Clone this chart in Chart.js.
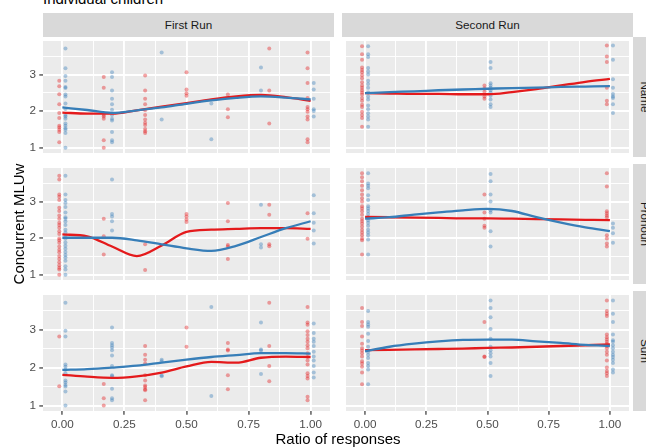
<!DOCTYPE html>
<html>
<head>
<meta charset="utf-8">
<script src="https://cdn.jsdelivr.net/npm/chart.js@4"></script>
<style>
body { margin:0; width:646px; height:448px; overflow:hidden; position:relative; background:#fff; font-family:"Liberation Sans", Arial, sans-serif; }
canvas, .lbl, .strip { position:absolute; }
.strip { background:#D9D9D9; color:#1A1A1A; font-size:11.7px; text-align:center; line-height:24px; white-space:nowrap; }
.lbl { white-space:nowrap; color:#000; font-weight:normal; }
</style>
</head>
<body>
<div class="lbl" style="left:43px; top:-9px; font-size:15px; line-height:15px;">Individual children</div>
<div class="strip" style="left:43px; top:13px; width:291px; height:24px;">First Run</div>
<div class="strip" style="left:342px; top:13px; width:291px; height:24px;">Second Run</div>
<div class="strip" style="left:585px; top:85px; width:120px; height:24px; transform:rotate(90deg);">Name</div>
<div class="strip" style="left:585px; top:212px; width:120px; height:24px; transform:rotate(90deg);">Pronoun</div>
<div class="strip" style="left:585px; top:339px; width:120px; height:24px; transform:rotate(90deg);">Sum</div>

<canvas id="p0" width="334" height="120" style="left:0; top:37px;"></canvas>
<canvas id="p1" width="291" height="120" style="left:342px; top:37px;"></canvas>
<canvas id="p2" width="334" height="120" style="left:0; top:164px;"></canvas>
<canvas id="p3" width="291" height="120" style="left:342px; top:164px;"></canvas>
<canvas id="p4" width="334" height="140" style="left:0; top:291px;"></canvas>
<canvas id="p5" width="291" height="140" style="left:342px; top:291px;"></canvas>

<div class="lbl" style="left:238px; width:200px; text-align:center; top:431px; font-size:15px; line-height:15px;">Ratio of responses</div>
<div class="lbl" style="left:-81px; width:200px; height:16px; text-align:center; top:216px; font-size:15px; line-height:16px; transform:rotate(-90deg);">Concurrent MLUw</div>

<script>
const xBreaks = [0, 0.25, 0.5, 0.75, 1];
const xMinor = [0.125, 0.375, 0.625, 0.875];
const yBreaks = [1, 2, 3];
const yMinor = [1.5, 2.5, 3.5];
const smoothX = [0, 0.1, 0.2, 0.3, 0.4, 0.5, 0.6, 0.7, 0.8, 0.9, 1];

// raw points: [ratio, [MLUw values]]
const firstNameRed = [
    [0, [2.83, 2.68, 2.46, 2.19, 1.95, 1.81, 1.60, 1.55, 1.49, 1.43, 1.15]],
    [1/6, [2.93, 2.64, 1.89, 1.85, 1.79, 1.20, 1.0]],
    [1/3, [2.97, 2.56, 2.34, 2.19, 2.02, 1.89, 1.77, 1.68, 1.62, 1.51, 1.45, 1.40]],
    [1/2, [3.06, 2.59, 2.49, 2.42]],
    [2/3, [2.45, 2.05, 1.83]],
    [5/6, [3.71, 2.56, 1.66]],
    [1, [3.60, 3.17, 2.77, 2.36, 2.11, 2.05, 1.98, 1.85, 1.77, 1.23, 1.15]]
];
const firstNameBlue = [
    [0, [3.71, 3.17, 2.96, 2.83, 2.66, 2.63, 2.45, 2.40, 2.21, 2.06, 1.89, 1.85, 1.79, 1.66, 1.60, 1.53, 1.49, 1.40, 1.0]],
    [0.2, [3.06, 2.93, 2.56, 2.34, 2.19, 2.04, 1.89, 1.79, 1.74, 1.43, 1.20, 1.15]],
    [0.4, [3.60, 1.77]],
    [0.6, [2.21, 1.23]],
    [0.8, [3.19, 2.56]],
    [1, [2.77, 2.59, 2.34, 2.05, 2.00, 1.85]]
];
const secondNameRed = [
    [0, [3.77, 3.55, 3.40, 3.19, 3.12, 3.06, 2.98, 2.90, 2.79, 2.70, 2.64, 2.57, 2.51, 2.45, 2.36, 2.28, 2.17, 2.11, 1.98, 1.89, 1.81, 1.57]],
    [0.5, [2.70, 2.62, 2.53, 2.40, 2.34]],
    [1, [3.79, 3.49, 3.34, 2.64, 2.28, 2.19]]
];
const secondNameBlue = [
    [0, [3.77, 3.55, 3.48, 3.18, 3.08, 3.00, 2.83, 2.74, 2.64, 2.51, 2.40, 2.32, 2.15, 2.05, 1.94, 1.85, 1.77, 1.57]],
    [0.5, [3.34, 3.18, 2.76, 2.70, 2.64, 2.57, 2.51, 2.42, 2.32, 2.19, 2.11]],
    [1, [3.79, 3.40, 2.87, 2.64, 2.47, 2.40, 2.36, 2.19, 1.95]]
];
const firstPronounRed = [
    [0, [3.70, 3.60, 3.19, 3.13, 3.04, 2.83, 2.74, 2.62, 2.53, 2.42, 2.36, 2.28, 2.19, 2.11, 1.99, 1.94, 1.87, 1.77, 1.68, 1.61, 1.51, 1.43, 1.34, 1.26, 1.19, 1.14, 1.0]],
    [1/6, [2.53, 2.05, 1.55]],
    [1/3, [1.83, 1.13]],
    [1/2, [2.66, 2.59, 2.51, 2.44]],
    [2/3, [2.96, 2.46, 1.81, 1.77, 1.43]],
    [5/6, [2.91, 2.64, 1.83, 1.78]],
    [1, [2.68, 1.98]]
];
const firstPronounBlue = [
    [0, [3.70, 3.19, 3.04, 2.96, 2.85, 2.70, 2.57, 2.53, 2.45, 2.36, 2.23, 2.15, 2.06, 1.98, 1.88, 1.79, 1.71, 1.62, 1.54, 1.47, 1.38, 1.23, 1.14, 1.0]],
    [0.2, [3.60, 2.66, 2.59, 2.46, 2.21]],
    [0.8, [2.91, 1.83, 1.74]],
    [1, [3.17, 2.68, 2.42, 2.21, 1.85]]
];
const secondPronounRed = [
    [0, [3.77, 3.66, 3.55, 3.43, 3.31, 3.19, 3.09, 3.00, 2.87, 2.81, 2.73, 2.64, 2.53, 2.47, 2.40, 2.32, 2.23, 2.15, 2.08, 1.99, 1.94, 1.55]],
    [0.5, [3.19, 2.70, 2.53, 2.34, 2.28]],
    [1, [3.77, 3.41, 2.73, 2.68, 2.62, 2.57, 2.08, 1.99, 1.85, 1.77]]
];
const secondPronounBlue = [
    [0, [3.77, 3.49, 3.43, 3.36, 3.17, 3.04, 2.87, 2.81, 2.74, 2.66, 2.57, 2.49, 2.42, 2.34, 2.23, 2.15, 2.08, 1.96, 1.55]],
    [0.5, [3.75, 3.55, 3.19, 3.00, 2.76, 2.70, 2.19, 1.77]],
    [1, [2.40, 2.28, 2.13, 1.87]]
];
const firstSumRed = [
    [0, [2.82, 1.51]],
    [1/6, [1.57, 1.19, 1.0]],
    [1/3, [2.57, 2.34, 2.21, 2.11, 1.80, 1.66, 1.53, 1.49, 1.43, 1.40, 1.14]],
    [1/2, [3.06, 2.55]],
    [2/3, [2.65, 2.48, 2.45, 1.80, 1.43]],
    [5/6, [3.71, 2.57, 2.04, 1.64]],
    [1, [3.60, 3.19, 3.13, 2.96, 2.86, 2.76, 2.68, 2.59, 2.51, 2.38, 2.28, 2.19, 2.08, 1.85, 1.78, 1.71, 1.23, 1.14]]
];
const firstSumBlue = [
    [0, [3.71, 2.97, 2.82, 2.08, 2.02, 1.95, 1.85, 1.66, 1.61, 1.54, 1.50, 1.37, 1.0]],
    [0.2, [3.06, 2.65, 2.59, 2.53, 2.46, 2.32, 2.04, 1.80, 1.77, 1.44, 1.19, 1.14]],
    [0.4, [2.21, 2.17, 1.80, 1.77]],
    [0.6, [3.60, 1.25]],
    [0.8, [3.19, 2.48, 2.45, 1.83]],
    [1, [3.16, 2.91, 2.76, 2.68, 2.57, 2.42, 2.29, 2.19, 2.04, 1.87, 1.74]]
];
const secondSumRed = [
    [0, [3.57, 3.20, 3.10, 2.82, 2.63, 2.51, 2.45, 2.38, 2.29, 2.17, 2.11, 2.02, 1.87, 1.56]],
    [0.5, [3.20, 2.29, 2.28]],
    [1, [3.77, 3.49, 3.42, 3.36, 2.87, 2.80, 2.74, 2.68, 2.62, 2.57, 2.51, 2.42, 2.34, 2.19, 2.00, 1.91, 1.85, 1.78]]
];
const secondSumBlue = [
    [0, [3.49, 3.20, 3.14, 3.08, 2.89, 2.70, 2.55, 2.42, 2.34, 2.25, 2.12, 2.04, 1.95, 1.56]],
    [0.5, [3.77, 3.57, 3.33, 3.02, 2.76, 2.55, 2.46, 2.38, 2.29, 2.12, 1.78]],
    [1, [3.77, 3.42, 3.20, 2.87, 2.72, 2.68, 2.59, 2.51, 2.42, 2.34, 2.28, 2.21, 2.12, 1.95, 1.87]]
];

// smoothed fits read at smoothX
const firstNameRedFit = [1.96, 1.93, 1.93, 2.02, 2.12, 2.22, 2.32, 2.40, 2.44, 2.38, 2.28];
const firstNameBlueFit = [2.10, 2.03, 1.95, 2.02, 2.10, 2.20, 2.29, 2.36, 2.40, 2.37, 2.32];
const secondNameRedFit = [2.49, 2.48, 2.47, 2.47, 2.46, 2.46, 2.52, 2.60, 2.70, 2.80, 2.88];
const secondNameBlueFit = [2.49, 2.52, 2.54, 2.57, 2.59, 2.61, 2.63, 2.64, 2.66, 2.67, 2.68];
const firstPronounRedFit = [2.10, 2.05, 1.77, 1.51, 1.80, 2.17, 2.23, 2.25, 2.27, 2.27, 2.25];
const firstPronounBlueFit = [2.01, 2.01, 2.01, 1.94, 1.83, 1.72, 1.65, 1.79, 2.03, 2.27, 2.46];
const secondPronounRedFit = [2.58, 2.57, 2.56, 2.55, 2.54, 2.54, 2.53, 2.52, 2.51, 2.50, 2.49];
const secondPronounBlueFit = [2.53, 2.57, 2.64, 2.70, 2.76, 2.80, 2.74, 2.57, 2.42, 2.29, 2.19];
const firstSumRedFit = [1.81, 1.76, 1.73, 1.77, 1.87, 2.03, 2.15, 2.13, 2.26, 2.29, 2.28];
const firstSumBlueFit = [1.94, 1.96, 2.00, 2.05, 2.13, 2.21, 2.28, 2.33, 2.38, 2.38, 2.37];
const secondSumRedFit = [2.46, 2.47, 2.48, 2.49, 2.50, 2.52, 2.53, 2.55, 2.57, 2.59, 2.61];
const secondSumBlueFit = [2.43, 2.55, 2.63, 2.69, 2.73, 2.74, 2.74, 2.69, 2.65, 2.60, 2.57];

const panels = [
    { id: 'p0', red: firstNameRed, blue: firstNameBlue, redFit: firstNameRedFit, blueFit: firstNameBlueFit, left: true, bottom: false },
    { id: 'p1', red: secondNameRed, blue: secondNameBlue, redFit: secondNameRedFit, blueFit: secondNameBlueFit, left: false, bottom: false },
    { id: 'p2', red: firstPronounRed, blue: firstPronounBlue, redFit: firstPronounRedFit, blueFit: firstPronounBlueFit, left: true, bottom: false },
    { id: 'p3', red: secondPronounRed, blue: secondPronounBlue, redFit: secondPronounRedFit, blueFit: secondPronounBlueFit, left: false, bottom: false },
    { id: 'p4', red: firstSumRed, blue: firstSumBlue, redFit: firstSumRedFit, blueFit: firstSumBlueFit, left: true, bottom: true },
    { id: 'p5', red: secondSumRed, blue: secondSumBlue, redFit: secondSumRedFit, blueFit: secondSumBlueFit, left: false, bottom: true }
];

const RED = '#E41A1C';
const BLUE = '#377EB8';
const dodge = 0.0125;

Chart.defaults.font.family = '"Liberation Sans", Arial, sans-serif';

const panelBg = {
    id: 'panelBg',
    beforeDraw(chart) {
        const { ctx, chartArea: a } = chart;
        ctx.save();
        ctx.fillStyle = '#EBEBEB';
        ctx.fillRect(a.left, a.top, a.width, a.height);
        ctx.restore();
    }
};

// spread groups sideways where both colours share the same ratio
function toPoints(groups, other, shift) {
    const pts = [];
    groups.forEach(([x, ys]) => {
        const shared = other.some(g => Math.abs(g[0] - x) < 1e-9);
        ys.forEach(y => pts.push({ x: shared ? x + shift : x, y: y }));
    });
    return pts;
}

function fitPoints(vals) {
    return smoothX.map((x, i) => ({ x: x, y: vals[i] }));
}

function axis(min, max, breaks, minor, showLabels, size, fmt, horizontal) {
    const all = breaks.concat(minor).sort((a, b) => a - b);
    return {
        type: 'linear',
        min: min,
        max: max,
        afterBuildTicks: s => { s.ticks = all.map(v => ({ value: v })); },
        afterFit: s => {
            if (horizontal) s.height = size; else s.width = size;
            s.paddingTop = 0; s.paddingBottom = 0; s.paddingLeft = 0; s.paddingRight = 0;
        },
        border: { display: false },
        grid: {
            color: '#FFFFFF',
            lineWidth: ctx => breaks.includes(ctx.tick.value) ? 1.9 : 0.95,
            drawTicks: showLabels,
            tickLength: 3.7,
            tickWidth: 1.2,
            tickColor: ctx => breaks.includes(ctx.tick.value) ? '#333333' : 'rgba(0,0,0,0)'
        },
        ticks: {
            display: showLabels,
            autoSkip: false,
            maxRotation: 0,
            padding: 3.2,
            color: '#4D4D4D',
            font: { size: 11.7 },
            callback: v => breaks.includes(v) ? fmt(v) : ''
        }
    };
}

panels.forEach(p => {
    new Chart(document.getElementById(p.id), {
        type: 'scatter',
        data: {
            datasets: [
                { data: fitPoints(p.blueFit), showLine: true, borderColor: BLUE, borderWidth: 2.3, pointRadius: 0, cubicInterpolationMode: 'monotone', order: 0 },
                { data: fitPoints(p.redFit), showLine: true, borderColor: RED, borderWidth: 2.3, pointRadius: 0, cubicInterpolationMode: 'monotone', order: 1 },
                { data: toPoints(p.blue, p.red, dodge), backgroundColor: 'rgba(55,126,184,0.4)', borderWidth: 0, pointRadius: 2, order: 2 },
                { data: toPoints(p.red, p.blue, -dodge), backgroundColor: 'rgba(228,26,28,0.4)', borderWidth: 0, pointRadius: 2, order: 3 }
            ]
        },
        options: {
            responsive: false,
            animation: false,
            devicePixelRatio: 1,
            events: [],
            layout: { padding: 0 },
            plugins: { legend: { display: false }, tooltip: { enabled: false } },
            scales: {
                x: axis(-0.078, 1.078, xBreaks, xMinor, p.bottom, p.bottom ? 20 : 0, v => v.toFixed(2), true),
                y: axis(0.855, 3.915, yBreaks, yMinor, p.left, p.left ? 43 : 0, v => String(v), false)
            }
        },
        plugins: [panelBg]
    });
});
</script>
</body>
</html>
